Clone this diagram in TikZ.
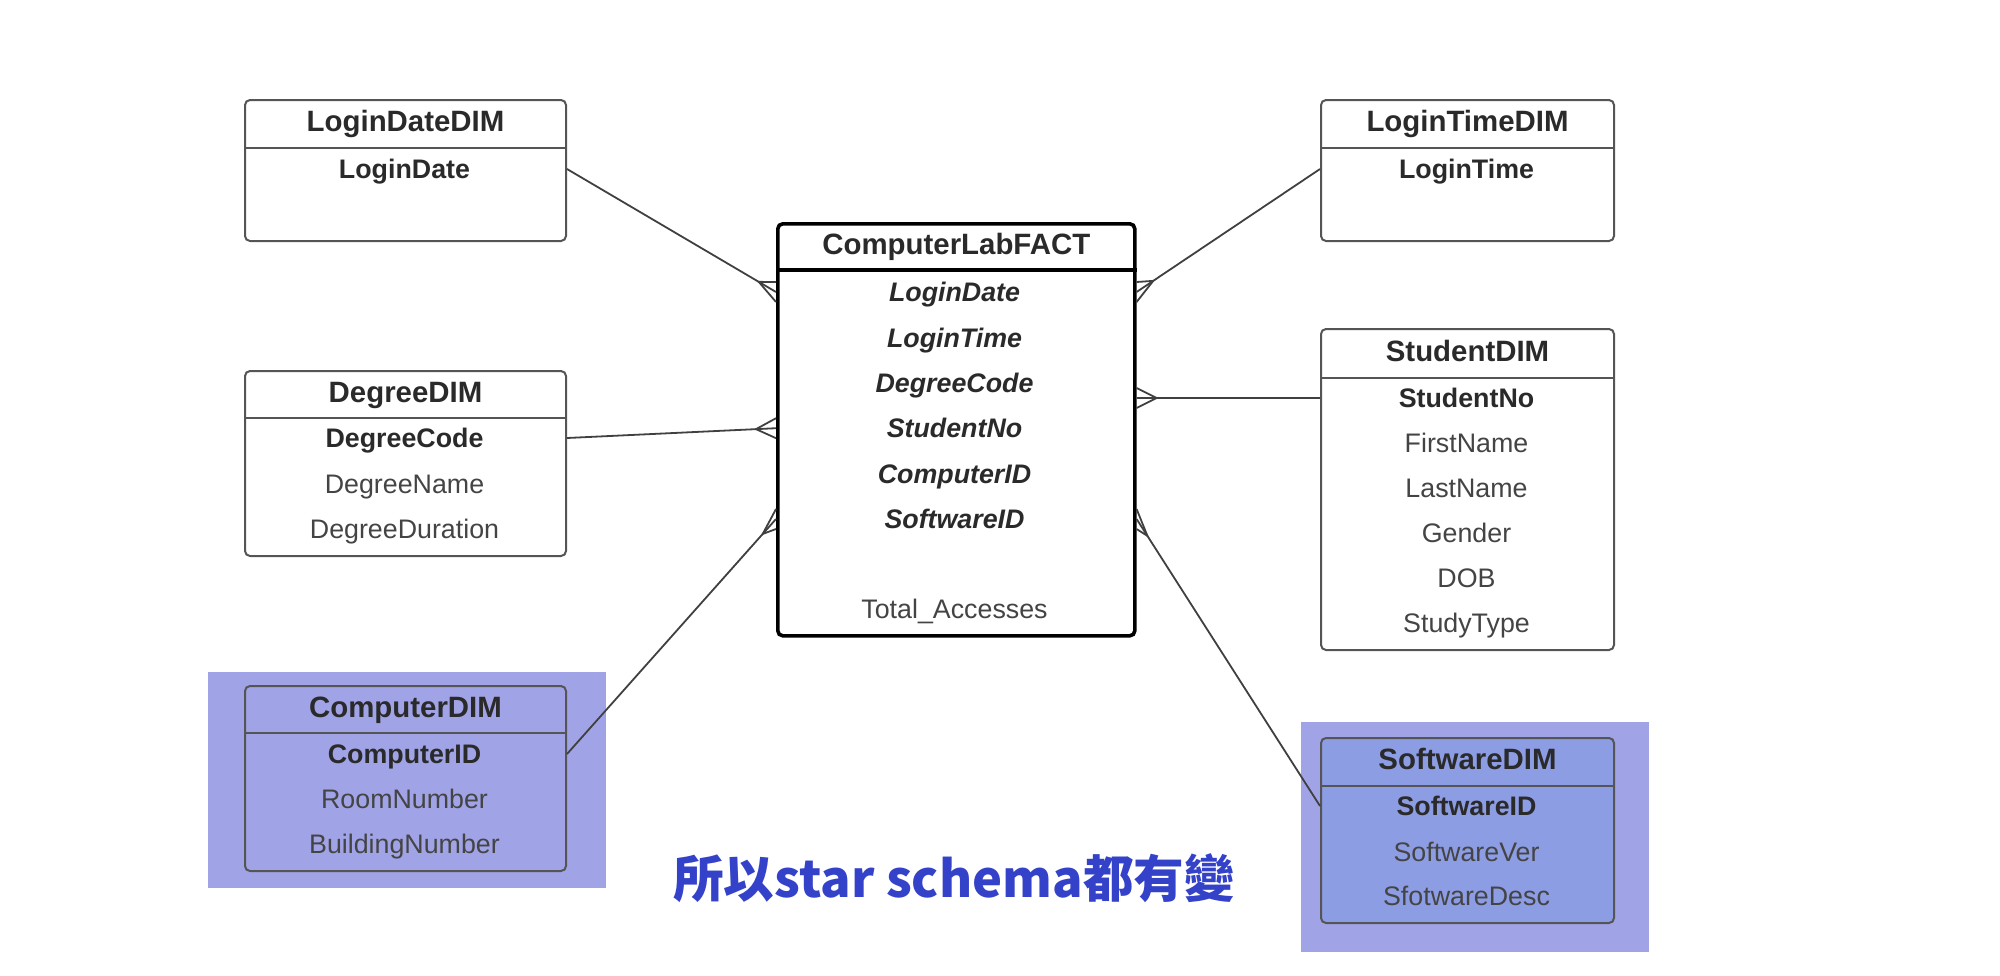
\documentclass[tikz,border=0pt]{standalone}
\usepackage{fontspec}
\setmainfont{Liberation Sans}
\newfontfamily\cjkfont{Noto Sans CJK TC}
\usetikzlibrary{calc}
\definecolor{BoxLine}{HTML}{555555}
\definecolor{TxtDark}{HTML}{2A2A2A}
\definecolor{TxtGray}{HTML}{444444}
\definecolor{HiBlue}{HTML}{A1A3E7}
\definecolor{SoftBlue}{HTML}{8D9DE4}
\definecolor{NoteBlue}{HTML}{3342C8}

\tikzset{
  tbl/.style={draw=BoxLine, line width=1pt, rounded corners=2.5pt, inner sep=0pt},
  ttl/.style={font=\bfseries\fontsize{14.7}{16}\selectfont, text=TxtDark, text height=8.2pt, text depth=0pt},
  keyrow/.style={font=\bfseries\fontsize{13.4}{15}\selectfont, text=TxtDark, text height=9.7pt, text depth=0pt},
  fkrow/.style={font=\bfseries\itshape\fontsize{13.4}{15}\selectfont, text=TxtDark, text height=9.7pt, text depth=0pt},
  plainrow/.style={font=\fontsize{13.4}{15}\selectfont, text=TxtGray, text height=9.7pt, text depth=0pt},
  rel/.style={draw=black!75, line width=0.9pt},
}

% name, x, y, width, height, header offset, title, extra style
\newcommand{\ertable}[8]{%
  \node[tbl, #8, anchor=north west, minimum width=#4*0.5pt, minimum height=#5*0.5pt] (#1) at (#2,#3) {};
  \draw[tbl, #8, fill=none] ($(#1.north west)+(0,#6)$) -- ($(#1.north east)+(0,#6)$);
  \node[ttl] (#1-t) at ($(#1.north)+(0,#6/2)$) {#7};
}

\begin{document}
\begin{tikzpicture}[x=0.5pt, y=-0.5pt]
  \useasboundingbox (0,0) rectangle (2000,975);

  % highlighted tables
  \fill[HiBlue] (208,672) rectangle (606,888);
  \fill[HiBlue] (1301,722) rectangle (1649,952);

  % dimension tables, left
  \ertable{ldate}{244}{99}{321}{141}{49}{LoginDateDIM}{fill=white}
  \node[keyrow] (ld1) at (404.5,169) {LoginDate};

  \ertable{deg}{244}{370}{321}{185}{48}{DegreeDIM}{fill=white}
  \node[keyrow] (dg1) at (404.5,438) {DegreeCode};
  \node[plainrow] (dg2) at (404.5,484) {DegreeName};
  \node[plainrow] (dg3) at (404.5,529) {DegreeDuration};

  \ertable{comp}{244}{685}{321}{185}{48}{ComputerDIM}{fill=HiBlue}
  \node[keyrow] (cp1) at (404.5,754) {ComputerID};
  \node[plainrow] (cp2) at (404.5,799) {RoomNumber};
  \node[plainrow] (cp3) at (404.5,844) {BuildingNumber};

  % dimension tables, right
  \ertable{ltime}{1320}{99}{293}{141}{49}{LoginTimeDIM}{fill=white}
  \node[keyrow] (lt1) at (1466.5,169) {LoginTime};

  \ertable{stud}{1320}{328}{293}{321}{50}{StudentDIM}{fill=white}
  \node[keyrow] (st1) at (1466.5,398) {StudentNo};
  \foreach \t [count=\i from 2] in {FirstName,LastName,Gender,DOB,StudyType}
    \node[plainrow] (st\i) at (1466.5,{398+(\i-1)*45}) {\t};

  \ertable{soft}{1320}{737}{293}{185}{49}{SoftwareDIM}{fill=SoftBlue}
  \node[keyrow] (sw1) at (1466.5,806) {SoftwareID};
  \node[plainrow] (sw2) at (1466.5,852) {SoftwareVer};
  \node[plainrow] (sw3) at (1466.5,896) {SfotwareDesc};

  % fact table
  \ertable{fact}{776}{222}{357}{412}{48}{ComputerLabFACT}{fill=white, draw=black, line width=1.8pt}
  \foreach \t [count=\i] in {LoginDate,LoginTime,DegreeCode,StudentNo,ComputerID,SoftwareID}
    \node[fkrow] (fr\i) at (954.5,{292+(\i-1)*45.4}) {\t};
  \node[plainrow] (fr7) at (954.5,609) {Total\_Accesses};

  % relationships
  \coordinate (ldA) at (ldate.east |- ld1);
  \coordinate (ldB) at (fact.west |- fr1);
  \coordinate (dgA) at (deg.east |- dg1);
  \coordinate (dgB) at (fact.west |- fr4);
  \coordinate (cpA) at (comp.east |- cp1);
  \coordinate (cpB) at (fact.west |- fr6);
  \coordinate (ltA) at (ltime.west |- lt1);
  \coordinate (ltB) at (fact.east |- fr1);
  \coordinate (stA) at (stud.west |- st1);
  \coordinate (stB) at (fact.east |- st1);
  \coordinate (swA) at (soft.west |- sw1);
  \coordinate (swB) at (fact.east |- fr6);
  \foreach \a/\b in {ldA/ldB,dgA/dgB,cpA/cpB,ltA/ltB,stA/stB,swA/swB}{
    \draw[rel] (\a) -- (\b);
    \draw[rel] ($(\b)+(0,-10)$) -- ($(\b)!10pt!(\a)$) -- ($(\b)+(0,10)$);
  }

  \node[font=\cjkfont\bfseries\fontsize{25.3}{28}\selectfont, text=NoteBlue] (note) at (954,878) {所以star schema都有變};
\end{tikzpicture}
\end{document}
